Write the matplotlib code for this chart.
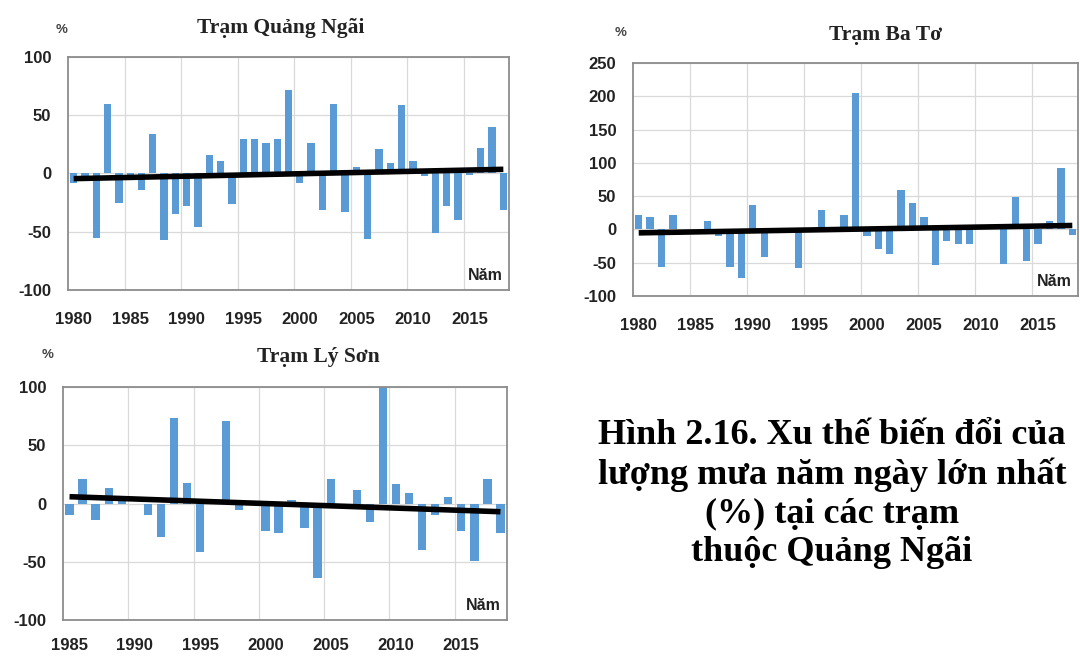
import numpy as np
import matplotlib
matplotlib.use("Agg")
import matplotlib.pyplot as plt

plt.rcParams["axes.unicode_minus"] = False

# --- data (% anomaly of max 5-day rainfall) ---
years_qn = list(range(1980, 2019))
qn = [-8, -3, -55, 60, -25, -1, -14, 34, -57, -35, -28, -46, 16, 11, -26, 30,
      30, 26, 30, 72, -8, 26, -31, 60, -33, 6, -56, 21, 9, 59, 11, -2, -51,
      -28, -40, -1, 22, 40, -31]

years_bt = list(range(1980, 2019))
bt = [21, 19, -56, 21, 0, 0, 12, -10, -56, -73, 36, -42, 0, 0, -58, 0, 29,
      0, 21, 205, -10, -30, -37, 59, 39, 18, -54, -18, -22, -22, 0, 0, -52,
      49, -48, -22, 12, 92, -8]

years_ls = list(range(1985, 2019))
ls = [-10, 21, -14, 13, 3, 0, -10, -29, 73, 18, -42, 0, 71, -6, 0, -24, -25,
      3, -21, -64, 21, 0, 12, -16, 100, 17, 9, -40, -10, 6, -24, -49, 21, -25]

BLUE = "#5B9BD5"
W, H = 1080, 659


def px(x0, y0, x1, y1):
    # pixel box (top-left origin) -> figure rect
    return [x0 / W, 1 - y1 / H, (x1 - x0) / W, (y1 - y0) / H]


def panel(fig, rect, years, vals, ylim, yticks, first_label, xpad):
    ax = fig.add_axes(rect)
    years = np.array(years)
    vals = np.array(vals, dtype=float)
    ax.bar(years, vals, width=0.64, color=BLUE, zorder=2)
    k, b = np.polyfit(years, vals, 1)
    ax.plot(years, k * years + b, color="black", lw=4, zorder=3,
            solid_capstyle="butt")
    ax.set_xlim(years[0] - 0.5, years[-1] + 0.5)
    ax.set_ylim(*ylim)
    ax.set_yticks(yticks)
    xt = list(range(first_label, years[-1] + 1, 5))
    ax.set_xticks(xt)
    ax.set_xticklabels([str(t) for t in xt])
    for g in xt[1:]:
        ax.axvline(g - 0.5, color="#d9d9d9", lw=0.9, zorder=1)
    ax.yaxis.grid(True, color="#d9d9d9", lw=0.9, zorder=1)
    ax.set_axisbelow(True)
    ax.tick_params(axis="x", length=0, labelsize=12, pad=xpad)
    ax.tick_params(axis="y", length=0, labelsize=12, pad=12)
    for lab in ax.get_xticklabels() + ax.get_yticklabels():
        lab.set_fontweight("bold")
        lab.set_family("Liberation Sans")
        lab.set_color("#222222")
    for s in ax.spines.values():
        s.set_color("#8c8c8c")
        s.set_linewidth(1.3)
    ax.text(0.985, 0.03, "Năm", transform=ax.transAxes, ha="right",
            va="bottom", fontsize=11.5, fontweight="bold",
            family="Liberation Sans", color="#222222", zorder=4,
            bbox=dict(facecolor="white", edgecolor="none", pad=1))
    return ax


fig = plt.figure(figsize=(10.8, 6.59), dpi=100)

panel(fig, px(68, 57, 509, 290), years_qn, qn, (-100, 100),
      [-100, -50, 0, 50, 100], 1980, 16)
panel(fig, px(633, 63, 1078, 296), years_bt, bt, (-100, 250),
      range(-100, 251, 50), 1980, 16)
panel(fig, px(63, 387, 507, 620), years_ls, ls, (-100, 100),
      [-100, -50, 0, 50, 100], 1985, 13)

title_kw = dict(fontsize=15.5, fontweight="bold", family="Liberation Serif",
                ha="center", va="center", color="#222222")
pct_kw = dict(fontsize=9.5, fontweight="bold", family="Liberation Sans",
              ha="center", va="center", color="#444444")

fig.text(281 / W, 1 - 28 / H, "Trạm Quảng Ngãi", **title_kw)
fig.text(62 / W, 1 - 30 / H, "%", **pct_kw)
fig.text(886 / W, 1 - 35 / H, "Trạm Ba Tơ", **title_kw)
fig.text(621 / W, 1 - 33 / H, "%", **pct_kw)
fig.text(318 / W, 1 - 357 / H, "Trạm Lý Sơn", **title_kw)
fig.text(48 / W, 1 - 355 / H, "%", **pct_kw)

caption = ("Hình 2.16. Xu thế biến đổi của\n"
           "lượng mưa năm ngày lớn nhất\n"
           "(%) tại các trạm\n"
           "thuộc Quảng Ngãi")
fig.text(832 / W, 1 - 494 / H, caption, fontsize=26, fontweight="bold",
         family="Liberation Serif", ha="center", va="center",
         linespacing=1.22, color="black")

fig.savefig("out.png", dpi=100)
